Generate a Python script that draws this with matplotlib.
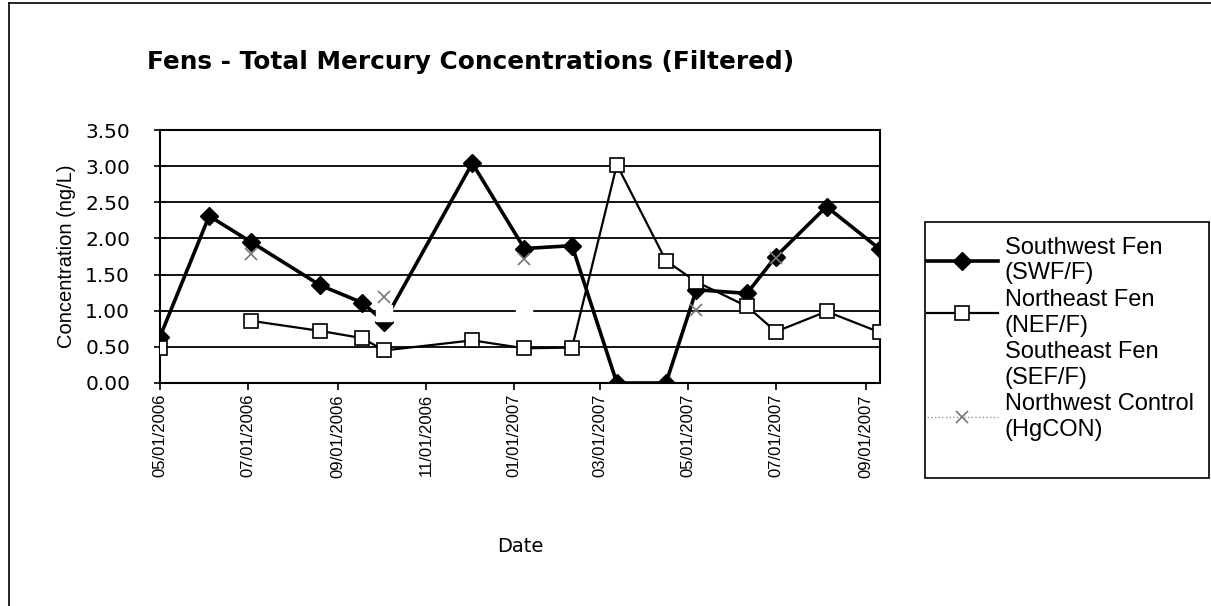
import numpy as np
import matplotlib
matplotlib.use("Agg")
import matplotlib.pyplot as plt
import matplotlib.dates as mdates
from matplotlib.lines import Line2D
from matplotlib.patches import Rectangle
import datetime as dt

plt.rcParams['font.family'] = ['Liberation Sans', 'DejaVu Sans']

# ---- data ----
dates = ['2006-05-01', '2006-06-04', '2006-07-03', '2006-08-20', '2006-09-18',
         '2006-10-03', '2006-12-03', '2007-01-08', '2007-02-10', '2007-03-13',
         '2007-04-16', '2007-05-07', '2007-06-11', '2007-07-01', '2007-08-05',
         '2007-09-11']
nan = np.nan
swf = [0.64, 2.31, 1.95, 1.35, 1.11, 0.85, 3.04, 1.86, 1.90, 0.00,
       0.00, 1.29, 1.24, 1.75, 2.44, 1.85]
nef = [0.48, nan, 0.86, 0.72, 0.62, 0.45, 0.59, 0.48, 0.49, 3.02,
       1.69, 1.40, 1.06, 0.71, 0.99, 0.70]
sef = [nan, nan, nan, nan, nan, 0.97, nan, 1.00, nan, nan,
       nan, nan, nan, nan, nan, nan]
con = [nan, nan, 1.79, nan, nan, 1.19, nan, 1.72, nan, nan,
       nan, 1.01, nan, 1.73, nan, nan]
labels = ['Southwest Fen\n(SWF/F)', 'Northeast Fen\n(NEF/F)',
          'Southeast Fen\n(SEF/F)', 'Northwest Control\n(HgCON)']
title = 'Fens - Total Mercury Concentrations (Filtered)'
yticks = [0.0, 0.5, 1.0, 1.5, 2.0, 2.5, 3.0, 3.5]
x_start, x_end = '2006-05-01', '2007-09-11'

x = [dt.datetime.strptime(d, '%Y-%m-%d') for d in dates]

W, H = 1211, 606
fig = plt.figure(figsize=(W / 100, H / 100), dpi=100)
ax = fig.add_axes([160 / W, 1 - 383 / H, 720 / W, 253 / H])

# gridlines
ax.set_yticks(yticks)
ax.yaxis.grid(True, color='black', linewidth=1.3)
ax.set_axisbelow(True)

l1, = ax.plot(x, swf, color='black', lw=2.6, marker='D', ms=9,
              mfc='black', mec='black', zorder=3)
l2, = ax.plot(x, nef, color='black', lw=1.6, marker='s', ms=10,
              mfc='white', mec='black', mew=1.2, zorder=4)
l3, = ax.plot(x, sef, color='white', lw=2, marker='s', ms=11,
              mfc='white', mec='white', zorder=5)
l4, = ax.plot(x, con, color='#999999', lw=1, ls=':', marker='x', ms=8,
              mec='#777777', mew=1.2, zorder=6)

ax.set_xlim(dt.datetime.strptime(x_start, '%Y-%m-%d'),
            dt.datetime.strptime(x_end, '%Y-%m-%d'))
ax.set_ylim(0, 3.5)
ax.xaxis.set_major_locator(mdates.MonthLocator(bymonth=[1, 3, 5, 7, 9, 11]))
ax.xaxis.set_major_formatter(mdates.DateFormatter('%m/%d/%Y'))
ax.yaxis.set_major_formatter(matplotlib.ticker.FormatStrFormatter('%.2f'))
for lab in ax.get_xticklabels():
    lab.set_rotation(90)
    lab.set_fontsize(12)
for lab in ax.get_yticklabels():
    lab.set_family('DejaVu Sans')
    lab.set_fontsize(14.5)
ax.tick_params(axis='x', direction='out', length=5, width=1.2, pad=3)
ax.tick_params(axis='y', direction='inout', length=9, width=1.2, pad=17)
for s in ax.spines.values():
    s.set_linewidth(1.5)
    s.set_color('black')

ax.set_xlabel('Date', fontsize=14, family='DejaVu Sans')
ax.xaxis.set_label_coords(0.5, (383 - 537) / 253)
ax.set_ylabel('Concentration (ng/L)', fontsize=14.5)
ax.yaxis.set_label_coords((76 - 160) / 720, 0.5)

fig.text(471 / W, 1 - 62 / H, title, fontsize=17.8, fontweight='bold',
         family='DejaVu Sans', ha='center', va='center')

# legend
leg = fig.legend([l1, l2, l3, l4], labels, loc='upper left',
                 bbox_to_anchor=(927 / W, 1 - 237 / H), frameon=False,
                 fontsize=17, handlelength=3.0, handletextpad=0.3,
                 labelspacing=0.2, borderpad=0.0, borderaxespad=0)
fig.add_artist(Rectangle((925 / W, 1 - 478 / H), (1209 - 925) / W, (478 - 222) / H,
                         transform=fig.transFigure, fill=False,
                         edgecolor='black', lw=1.2))

# chart outer border
fig.add_artist(Line2D([9 / W, 9 / W], [0, 1 - 3 / H], transform=fig.transFigure,
                      color='black', lw=1.2))
fig.add_artist(Line2D([9 / W, 1], [1 - 3 / H, 1 - 3 / H], transform=fig.transFigure,
                      color='black', lw=1.2))

fig.savefig('out.png', dpi=100)
